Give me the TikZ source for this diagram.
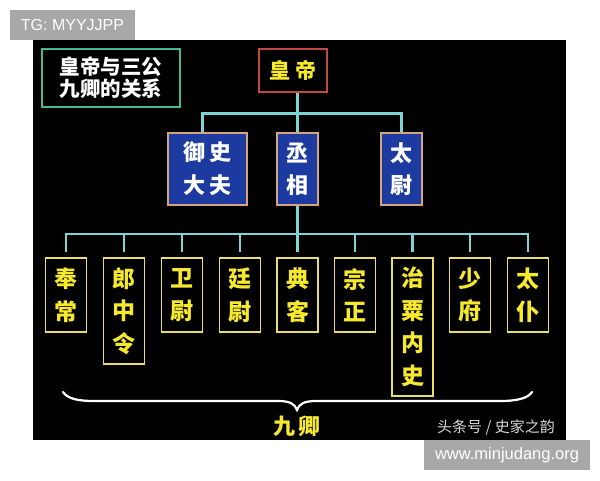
\documentclass[tikz,border=0pt]{standalone}
\usepackage{fontspec}
\setmainfont{Liberation Sans}
\newfontfamily\cjk{Noto Sans CJK SC}
\definecolor{titlegreen}{RGB}{70,185,150}
\definecolor{conncol}{RGB}{125,212,212}
\definecolor{redbord}{RGB}{190,75,65}
\definecolor{bluefill}{RGB}{28,58,160}
\definecolor{tanbord}{RGB}{212,165,125}
\definecolor{yeltext}{RGB}{245,232,45}
\definecolor{yelbord}{RGB}{232,222,105}
\definecolor{wmgray}{RGB}{168,168,168}
\definecolor{credit}{RGB}{215,215,215}
\begin{document}
\begin{tikzpicture}[x=1pt,y=-1pt,
  conn/.style={draw=conncol,line width=2.2pt},
  titlebox/.style={draw=titlegreen,line width=2pt,minimum width=138pt,minimum height=58pt,inner sep=0pt,text=white,align=center,font=\cjk\bfseries\fontsize{20.5}{22}\selectfont},
  emperor/.style={draw=redbord,line width=2pt,minimum width=68pt,minimum height=43pt,inner sep=0pt,text=yeltext,font=\cjk\bfseries\fontsize{21}{22}\selectfont},
  gongbox/.style={draw=tanbord,fill=bluefill,line width=2pt,minimum height=72pt,inner sep=0pt,text=white,align=center,font=\cjk\bfseries\fontsize{22}{32.5}\selectfont},
  qingbox/.style={draw=yelbord,line width=1.8pt,minimum width=41pt,inner sep=0pt,text=yeltext,align=center,font=\cjk\bfseries\fontsize{23}{32.5}\selectfont},
  wmbox/.style={fill=wmgray,inner sep=0pt,text=white,font=\fontsize{16}{18}\selectfont}]
\useasboundingbox (0,0) rectangle (600,480);
\fill[white] (0,0) rectangle (600,480);
\fill[black] (33,40) rectangle (566,440);
% watermark boxes
\node[wmbox,minimum width=125pt,minimum height=30pt] (tg) at (72.5,25) {TG: MYYJJPP};
\node[wmbox,minimum width=166pt,minimum height=30pt,font=\fontsize{16.5}{18}\selectfont] (www) at (507,455) {www.minjudang.org};
% title
\node[titlebox] (title) at (111,78) {皇帝与三公\\九卿的关系};
% emperor
\node[emperor] (huangdi) at (293,70.5) {皇\hspace{5pt}帝};
% three gong
\node[gongbox,minimum width=79pt] (yushi) at (207.5,168.5) {御\hspace{5pt}史\\大\hspace{5pt}夫};
\node[gongbox,minimum width=41pt] (chengxiang) at (297.5,169) {丞\\相};
\node[gongbox,minimum width=41pt] (taiwei) at (401.5,169) {太\\尉};
% nine qing
\node[qingbox,minimum height=74pt] (fengchang) at (66,295) {奉\\常};
\node[qingbox,minimum height=106pt] (langzhong) at (124,311) {郎\\中\\令};
\node[qingbox,minimum height=74pt] (weiwei) at (182,295) {卫\\尉};
\node[qingbox,minimum height=74pt] (tingwei) at (240,295) {廷\\尉};
\node[qingbox,minimum height=74pt] (dianke) at (297.5,295) {典\\客};
\node[qingbox,minimum height=74pt] (zongzheng) at (355,295) {宗\\正};
\node[qingbox,minimum height=138pt] (zhisu) at (412.5,327) {治\\粟\\内\\史};
\node[qingbox,minimum height=74pt] (shaofu) at (470,295) {少\\府};
\node[qingbox,minimum height=74pt] (taipu) at (528,295) {太\\仆};
% upper connectors
\draw[conn] ([xshift=-5pt]yushi.north) -- ++(0,-18) -| (taiwei.north);
\draw[conn] (huangdi.south -| chengxiang.north) -- (chengxiang.north);
% lower connectors
\draw[conn] (chengxiang.south) -- ([yshift=5pt]dianke.north);
\draw[conn] ([yshift=5pt]fengchang.north) -- ++(0,-18) -| ([yshift=5pt]taipu.north);
\foreach \n in {langzhong,weiwei,tingwei,zongzheng,zhisu,shaofu}
  \draw[conn] ([yshift=5pt]\n.north) -- ++(0,-18);
% brace
\coordinate (braceL) at (63,392);
\coordinate (braceT) at (297,410);
\coordinate (braceR) at (532,392);
\draw[white,line width=2.2pt,line cap=round]
  (braceL) .. controls (68,399) and (78,401) .. (95,401) -- (278,401)
  .. controls (290,401) and (295,404) .. (braceT)
  .. controls (299,404) and (304,401) .. (316,401) -- (500,401)
  .. controls (518,401) and (528,398) .. (braceR);
\node[text=yeltext,font=\cjk\bfseries\fontsize{22}{24}\selectfont] (jiuqing) at (297,426) {九\hspace{4pt}卿};
\node[text=credit,font=\cjk\fontsize{15}{16}\selectfont] (credit) at (496,427) {头条号 / 史家之韵};
\end{tikzpicture}
\end{document}
